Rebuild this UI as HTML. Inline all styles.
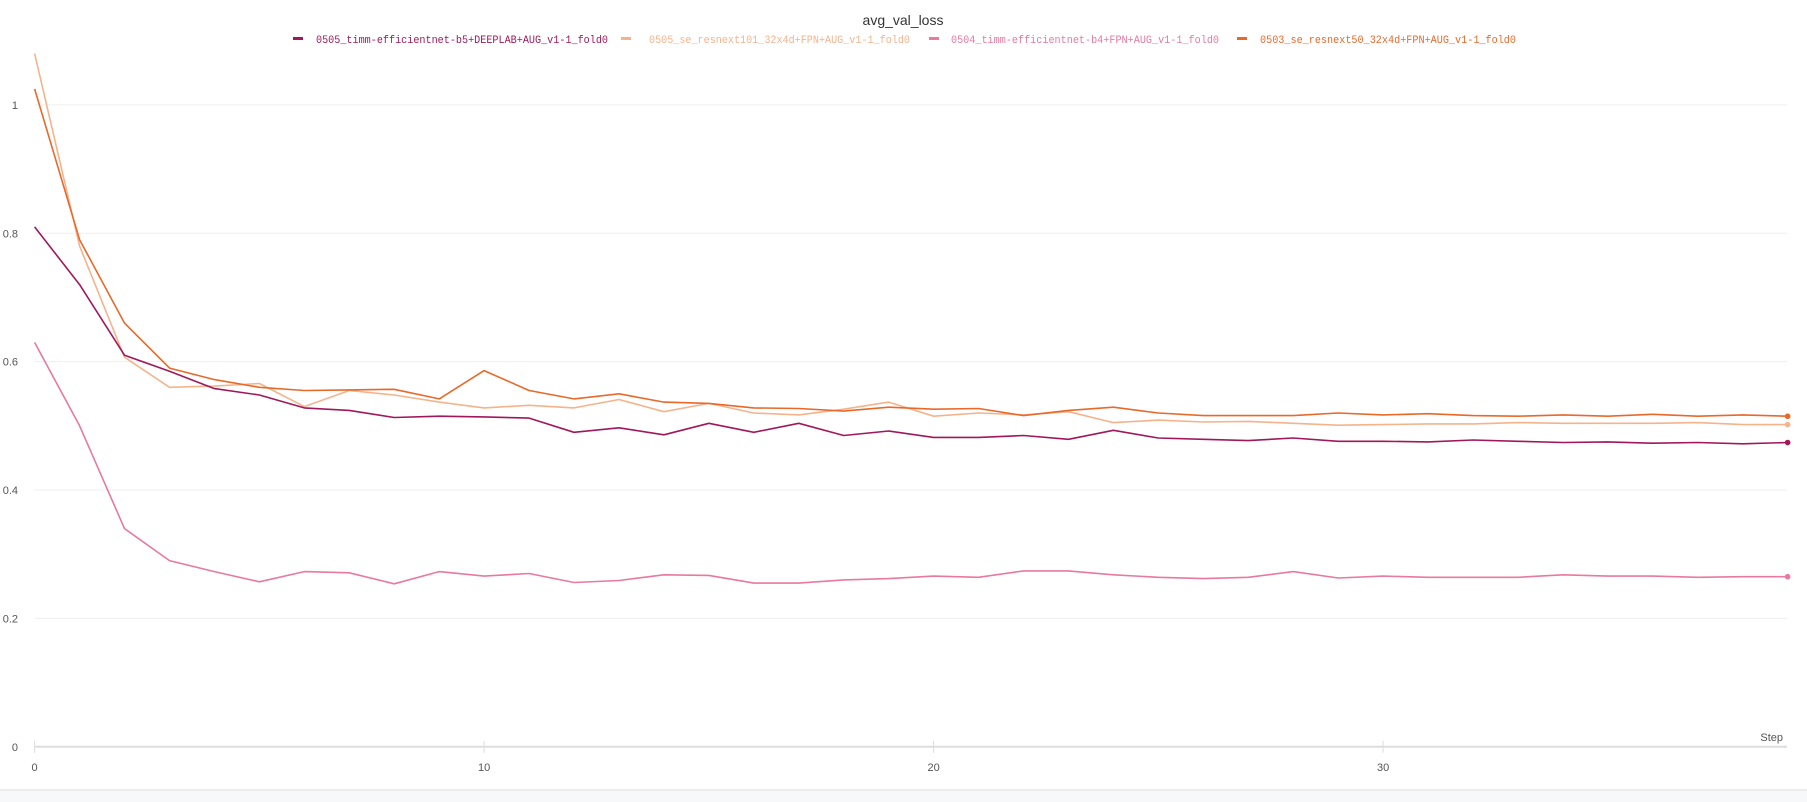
<!DOCTYPE html>
<html><head><meta charset="utf-8"><style>
html,body{margin:0;padding:0;background:#fff;width:1807px;height:802px;overflow:hidden}
svg{display:block}
</style></head><body>
<svg id="chart" width="1807" height="802" xmlns="http://www.w3.org/2000/svg">
<rect x="0" y="790" width="1807" height="12" fill="#f7f8fa"/>
<line x1="0" y1="790" x2="1807" y2="790" stroke="#ddd" stroke-width="1"/>
<text x="903" y="25" text-anchor="middle" font-family="Liberation Sans, sans-serif" font-size="14" fill="#333">avg_val_loss</text>
<g id="legend"></g>
<g id="grid"></g>
<g id="axes"></g>
<g id="series"></g>
<text x="1783" y="741" text-anchor="end" font-family="Liberation Sans, sans-serif" font-size="11" fill="#555">Step</text>
</svg>
<script>
const steps = Array.from({length:40},(_,i)=>i);
const seriesNames = ["0505_timm-efficientnet-b5+DEEPLAB+AUG_v1-1_fold0","0505_se_resnext101_32x4d+FPN+AUG_v1-1_fold0","0504_timm-efficientnet-b4+FPN+AUG_v1-1_fold0","0503_se_resnext50_32x4d+FPN+AUG_v1-1_fold0"];
const seriesColors = ["#a0185a","#f5b38c","#e8799f","#e8692a"];
const b5 = [0.81,0.72,0.61,0.585,0.558,0.548,0.528,0.524,0.513,0.515,0.514,0.512,0.49,0.497,0.486,0.504,0.49,0.504,0.485,0.492,0.482,0.482,0.485,0.479,0.493,0.481,0.479,0.477,0.481,0.476,0.476,0.475,0.478,0.476,0.474,0.475,0.473,0.474,0.472,0.474];
const rx101 = [1.08,0.78,0.607,0.56,0.562,0.566,0.53,0.555,0.548,0.537,0.528,0.532,0.528,0.541,0.522,0.535,0.52,0.517,0.526,0.537,0.515,0.52,0.517,0.522,0.505,0.509,0.506,0.507,0.504,0.501,0.502,0.503,0.503,0.505,0.504,0.504,0.504,0.505,0.502,0.502];
const b4 = [0.63,0.5,0.34,0.29,0.273,0.257,0.273,0.271,0.254,0.273,0.266,0.27,0.256,0.259,0.268,0.267,0.255,0.255,0.26,0.262,0.266,0.264,0.274,0.274,0.268,0.264,0.262,0.264,0.273,0.263,0.266,0.264,0.264,0.264,0.268,0.266,0.266,0.264,0.265,0.265];
const rx50 = [1.025,0.79,0.66,0.59,0.572,0.56,0.555,0.556,0.557,0.542,0.586,0.555,0.542,0.55,0.537,0.535,0.528,0.527,0.523,0.529,0.526,0.527,0.516,0.524,0.529,0.52,0.516,0.516,0.516,0.52,0.517,0.519,0.516,0.515,0.517,0.515,0.518,0.515,0.517,0.515];
const yTicks = [0,0.2,0.4,0.6,0.8,1];
const yTickLabels = ["0","0.2","0.4","0.6","0.8","1"];
const xTicks = [0,10,20,30];
const xTickLabels = ["0","10","20","30"];

const NS="http://www.w3.org/2000/svg";
const X0=34.6, XS=44.95, Y0=746.8, YS=641.9, XR=1787;
const xs=v=>X0+v*XS, ys=v=>Y0-v*YS;
function mk(tag,parent,attrs){const e=document.createElementNS(NS,tag);for(const k in attrs)e.setAttribute(k,attrs[k]);parent.appendChild(e);return e;}
const grid=document.getElementById('grid'), axes=document.getElementById('axes'), ser=document.getElementById('series'), leg=document.getElementById('legend');
yTicks.forEach((t,i)=>{
  if(t>0){const l=mk('line',grid,{x1:X0,x2:XR,y1:ys(t),y2:ys(t),stroke:'#efefef','stroke-width':1});
  
  }
  const tx=mk('text',axes,{x:18,y:ys(t)+4,'text-anchor':'end','font-family':'Liberation Sans, sans-serif','font-size':11,fill:'#555'});
  tx.textContent=yTickLabels[i];
  
  
});
const ax=mk('line',axes,{x1:X0,x2:XR,y1:Y0,y2:Y0,stroke:'#ddd','stroke-width':2});


xTicks.forEach((t,i)=>{
  const l=mk('line',axes,{x1:xs(t),x2:xs(t),y1:Y0-6,y2:Y0+6,stroke:'#ddd','stroke-width':1});
  
  
  const tx=mk('text',axes,{x:xs(t),y:Y0+24,'text-anchor':'middle','font-family':'Liberation Sans, sans-serif','font-size':11,fill:'#555'});
  tx.textContent=xTickLabels[i];
  
  
});
const data=[b5,rx101,b4,rx50];
const order=[2,1,0,3];
order.forEach(si=>{
  const vals=data[si];
  const d=vals.map((v,i)=>(i?'L':'M')+xs(steps[i]).toFixed(1)+','+ys(v).toFixed(1)).join('');
  const p=mk('path',ser,{d:d,fill:'none',stroke:seriesColors[si],'stroke-width':1.6,'stroke-linejoin':'round'});
  
  
  const n=vals.length-1;
  const c=mk('circle',ser,{cx:xs(steps[n]),cy:ys(vals[n]),r:2.8,fill:seriesColors[si]});
  
  
});
const legMarkers=[298,626,934,1242], legTexts=[316,649,951,1260], legEnds=[608,910,1219,1516];
seriesNames.forEach((nm,i)=>{
  const r=mk('rect',leg,{x:legMarkers[i]-5,y:37,width:10,height:3,fill:seriesColors[i]});
  
  
  const t=mk('text',leg,{x:legTexts[i],y:43,'font-family':'Liberation Mono, monospace','font-size':11,fill:seriesColors[i],textLength:legEnds[i]-legTexts[i],lengthAdjust:'spacingAndGlyphs'});
  t.textContent=nm;
  
  
});
</script>
</body></html>
